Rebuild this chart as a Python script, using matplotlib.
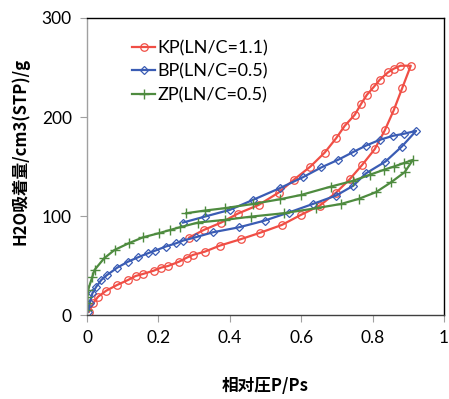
import matplotlib.pyplot as plt

# KP (LN/C=1.1): adsorption then desorption
kp_x = [0.0056, 0.017, 0.031, 0.054, 0.084, 0.115, 0.136, 0.157, 0.187, 0.208, 0.227,
        0.258, 0.280, 0.297, 0.330, 0.372, 0.430, 0.486, 0.546, 0.599, 0.652, 0.698,
        0.736, 0.771, 0.806, 0.834, 0.859, 0.883, 0.907,
        0.878, 0.859, 0.843, 0.820, 0.803, 0.784, 0.768, 0.750, 0.722, 0.698, 0.666,
        0.626, 0.579, 0.537, 0.481, 0.423, 0.376, 0.327, 0.286]
kp_y = [3.4, 11.8, 18.5, 24.6, 30.3, 35.4, 39.4, 41.5, 44.8, 47.9, 49.5,
        53.9, 58.0, 60.7, 64.0, 70.1, 76.5, 83.2, 91.0, 101.1, 110.5, 123.7,
        137.2, 151.7, 167.5, 186.4, 206.6, 229.2, 251.8,
        251.8, 248.7, 245.0, 237.6, 230.2, 222.4, 213.3, 202.2, 191.1, 178.6, 164.1,
        150.0, 136.5, 123.7, 111.2, 102.5, 93.4, 85.9, 78.2]

# BP (LN/C=0.5)
bp_x = [0.003, 0.0075, 0.015, 0.026, 0.040, 0.056, 0.085, 0.115, 0.143, 0.171, 0.191,
        0.220, 0.250, 0.269, 0.304, 0.353, 0.426, 0.498, 0.565, 0.633, 0.698, 0.745,
        0.782, 0.836, 0.882, 0.922,
        0.887, 0.857, 0.820, 0.782, 0.745, 0.703, 0.656, 0.605, 0.540, 0.465, 0.400,
        0.330, 0.269]
bp_y = [3.4, 11.8, 21.9, 28.6, 35.4, 40.4, 47.9, 53.9, 58.3, 62.4, 65.0,
        69.1, 72.5, 75.2, 78.5, 83.6, 88.6, 95.4, 103.5, 112.2, 120.7, 130.4,
        143.2, 155.0, 170.2, 186.0,
        183.0, 181.0, 176.9, 171.2, 164.5, 156.7, 149.0, 139.2, 128.1, 116.3, 106.2,
        99.4, 93.4]

# ZP (LN/C=0.5)
zp_x = [0.0, 0.001, 0.001, 0.003, 0.015, 0.021, 0.048, 0.077, 0.117, 0.157, 0.201,
        0.233, 0.260, 0.311, 0.386, 0.460, 0.551, 0.642, 0.712, 0.761, 0.809, 0.852,
        0.890, 0.913,
        0.887, 0.860, 0.831, 0.792, 0.745, 0.684, 0.600, 0.542, 0.465, 0.386, 0.330,
        0.278]
zp_y = [5.1, 11.8, 18.5, 25.3, 38.8, 45.5, 57.3, 65.7, 72.5, 78.5, 82.6,
        85.9, 88.6, 93.4, 96.1, 99.4, 102.8, 107.9, 112.2, 117.3, 124.0, 134.1,
        144.3, 156.7,
        153.4, 150.0, 146.6, 141.6, 135.5, 129.8, 121.3, 117.0, 112.2, 107.9, 105.5,
        102.8]

plt.rcParams['font.family'] = ['Lato', 'Noto Sans CJK JP', 'DejaVu Sans']

fig = plt.figure(figsize=(4.49, 3.99), dpi=100)
ax = fig.add_axes([0.1938, 0.2105, 0.795, 0.7444])

ax.plot(kp_x, kp_y, color='#F04E45', linewidth=1.6, marker='o', markersize=5.4,
        markerfacecolor='none', markeredgewidth=0.9, label='KP(LN/C=1.1)')
ax.plot(bp_x, bp_y, color='#3A5CB4', linewidth=1.6, marker='D', markersize=4.4,
        markerfacecolor='none', markeredgewidth=0.9, label='BP(LN/C=0.5)')
ax.plot(zp_x, zp_y, color='#4E8B3F', linewidth=1.6, marker='+', markersize=6.5,
        markeredgewidth=1.0, label='ZP(LN/C=0.5)')

ax.set_xlim(0, 1)
ax.set_ylim(0, 300)
ax.set_xticks([0, 0.2, 0.4, 0.6, 0.8, 1])
ax.set_xticklabels(['0', '0.2', '0.4', '0.6', '0.8', '1'])
ax.set_yticks([0, 100, 200, 300])

ax.spines['left'].set_color('#A0A0A0')
ax.spines['bottom'].set_color('#404040')
ax.spines['top'].set_color('black')
ax.spines['right'].set_color('black')
for s in ax.spines.values():
    s.set_linewidth(1.0)
ax.tick_params(axis='both', direction='out', length=5, color='#A0A0A0',
               labelsize=12.5, pad=6)

ax.set_xlabel('相对圧P/Ps', family=['Noto Sans CJK JP', 'DejaVu Sans'],
              fontsize=12, fontweight='bold')
ax.xaxis.set_label_coords(0.5, -0.21)
ax.set_ylabel('H2O吸着量/cm3(STP)/g', family=['Noto Sans CJK JP', 'DejaVu Sans'],
              fontsize=12, fontweight='bold')
ax.yaxis.set_label_coords(-0.16, 0.55)

ax.legend(loc='upper left', bbox_to_anchor=(0.08, 0.98), frameon=False,
          fontsize=13, handlelength=1.3, handletextpad=0.1, labelspacing=0.4)

fig.savefig('out.png', dpi=100)
